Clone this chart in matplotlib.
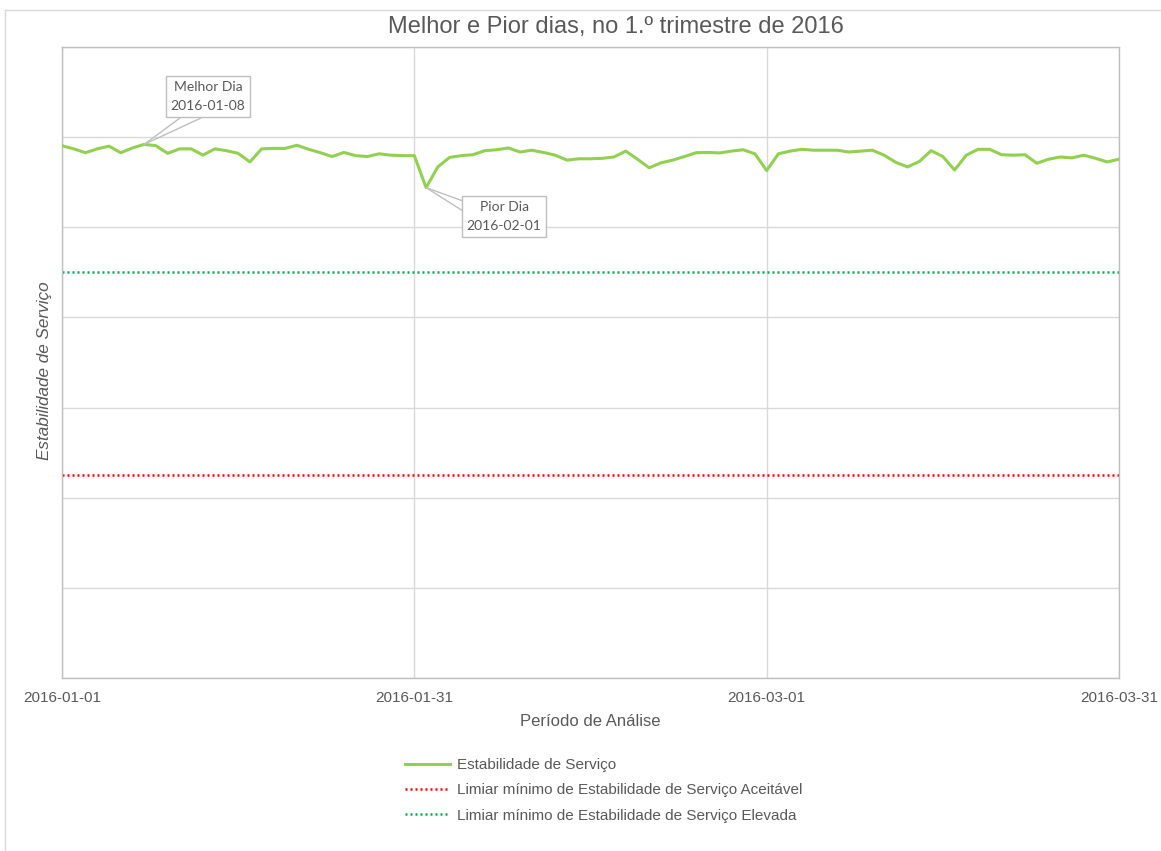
import matplotlib
matplotlib.use("Agg")
import matplotlib.pyplot as plt
from matplotlib.lines import Line2D
import numpy as np
import pandas as pd

# ---------------- data ----------------
dates = pd.date_range("2016-01-01", "2016-03-31", freq="D")
estabilidade = [
    # January
    118.1, 117.4, 116.55, 117.4, 118.0, 116.55, 117.6, 118.4, 118.1, 116.4,
    117.4, 117.4, 116.0, 117.4, 117.0, 116.4, 114.5, 117.4, 117.5, 117.5,
    118.2, 117.3, 116.55, 115.7, 116.6, 115.9, 115.7, 116.3, 116.0, 115.9,
    115.9,
    # February
    108.8, 113.4, 115.5, 115.9, 116.1, 117.0, 117.2, 117.6, 116.7, 117.1,
    116.6, 116.0, 114.9, 115.2, 115.2, 115.3, 115.6, 116.9, 115.1, 113.2,
    114.3, 114.9, 115.7, 116.55, 116.6, 116.5, 116.9, 117.2, 116.3,
    # March
    112.6, 116.3, 116.9, 117.3, 117.1, 117.1, 117.1, 116.7, 116.9, 117.1,
    116.0, 114.4, 113.4, 114.6, 117.0, 115.7, 112.7, 116.0, 117.3, 117.3,
    116.1, 116.0, 116.1, 114.2, 115.1, 115.6, 115.4, 116.0, 115.3, 114.5,
    115.1,
]
limiar_aceitavel = 45.0
limiar_elevada = 90.0
xtick_labels = ["2016-01-01", "2016-01-31", "2016-03-01", "2016-03-31"]
melhor_dia = "2016-01-08"
pior_dia = "2016-02-01"

serie = pd.Series(estabilidade, index=dates)

# ---------------- figure ----------------
W, H = 1161, 851
fig = plt.figure(figsize=(W / 100, H / 100), dpi=100)
fig.patch.set_facecolor("white")

ax = fig.add_axes([62 / W, 1 - 678 / H, (1119 - 62) / W, (678 - 47) / H])

txt = "#595959"
grid_c = "#D9D9D9"
box_c = "#BFBFBF"

ax.plot(serie.index, serie.values, color="#92D050", lw=2.2,
        label="Estabilidade de Serviço", zorder=3, solid_joinstyle="round")
ax.axhline(limiar_aceitavel, color="#FF0000", lw=1.8, linestyle=(0, (0.8, 1.2)),
           label="Limiar mínimo de Estabilidade de Serviço Aceitável", zorder=2)
ax.axhline(limiar_elevada, color="#00B050", lw=1.8, linestyle=(0, (0.8, 1.2)),
           label="Limiar mínimo de Estabilidade de Serviço Elevada", zorder=2)

ax.set_xlim(dates[0], dates[-1])
ax.set_ylim(0, 140)
ax.set_yticks(np.arange(0, 141, 20))
ax.set_yticklabels([])
xt = pd.to_datetime(xtick_labels)
ax.set_xticks(xt)
ax.set_xticklabels(xtick_labels, fontsize=11, color=txt, family="Liberation Sans")
ax.tick_params(axis="both", length=0)
ax.tick_params(axis="x", pad=9)
ax.grid(True, color=grid_c, lw=1)
for s in ax.spines.values():
    s.set_color(box_c)
    s.set_linewidth(1)

# title & labels
fig.text(616 / W, 1 - 27 / H, "Melhor e Pior dias, no 1.º trimestre de 2016",
         ha="center", va="center", fontsize=17, color=txt, family="Liberation Sans")
fig.text(590 / W, 1 - 721 / H, "Período de Análise", ha="center", va="center",
         fontsize=12, color=txt, family="Liberation Sans")
fig.text(45 / W, 1 - 371 / H, "Estabilidade de Serviço", ha="center", va="center",
         rotation=90, fontsize=12.3, color=txt, style="italic", family="Liberation Sans")

# callouts: pointer lines from box edge to the data point, then the box
def callout(day, label, center_px, base_px):
    d = pd.Timestamp(day)
    for bx, by in base_px:
        ax.annotate("", xy=(d, serie[d]), xytext=(bx, H - by),
                    textcoords="figure pixels",
                    arrowprops=dict(arrowstyle="-", color=box_c, lw=1,
                                    shrinkA=0, shrinkB=0), zorder=4)
    ax.annotate(label + "\n" + day, xy=(center_px[0], H - center_px[1]),
                xycoords="figure pixels", ha="center", va="center",
                fontsize=10, color=txt, family="Lato", linespacing=1.65,
                bbox=dict(boxstyle="square,pad=0.36", fc="white", ec=box_c, lw=1),
                zorder=5)

callout(melhor_dia, "Melhor Dia", (208, 96.5), [(180, 118), (201, 118)])
callout(pior_dia, "Pior Dia", (504, 216.5), [(463, 201), (463, 211)])

# legend
leg = fig.legend(loc="upper left", bbox_to_anchor=(405 / W, 1 - 758 / H),
                 frameon=False, borderpad=0, borderaxespad=0, handlelength=2.95,
                 handletextpad=0.46, labelspacing=0.74,
                 prop=dict(family="Liberation Sans", size=11))
for t in leg.get_texts():
    t.set_color(txt)

# outer chart border (left and top)
fig.add_artist(Line2D([5 / W, 5 / W], [0, 1 - 10 / H], color="#D9D9D9", lw=1))
fig.add_artist(Line2D([5 / W, 1], [1 - 10 / H, 1 - 10 / H], color="#D9D9D9", lw=1))

fig.savefig("out.png", dpi=100, facecolor="white")
